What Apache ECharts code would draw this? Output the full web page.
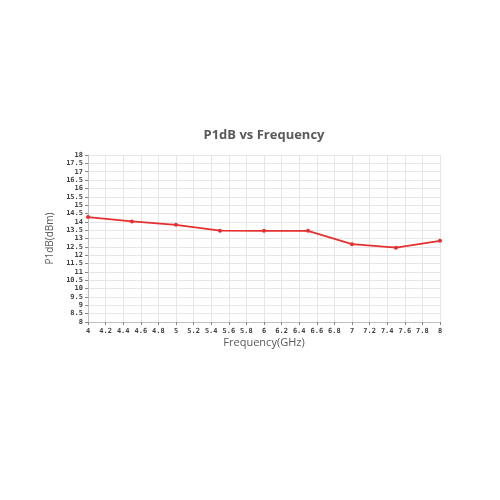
<!DOCTYPE html>
<html>
<head>
<meta charset="utf-8">
<script src="https://cdn.jsdelivr.net/npm/echarts@6/dist/echarts.min.js"></script>
<style>html,body{margin:0;padding:0;background:#fff}#c{width:500px;height:500px}</style>
</head>
<body>
<div id="c"></div>
<script>
var frequencies = [4, 4.5, 5, 5.5, 6, 6.5, 7, 7.5, 8];
var p1db = [14.28, 14.02, 13.82, 13.47, 13.46, 13.46, 12.66, 12.45, 12.86];
var titleText = 'P1dB vs Frequency';
var xName = 'Frequency(GHz)';
var yName = 'P1dB(dBm)';

var chart = echarts.init(document.getElementById('c'));
var tickFont = {fontFamily: 'DejaVu Sans Mono', fontWeight: 'bold', fontSize: 7, color: '#404040'};
chart.setOption({
  animation: false,
  backgroundColor: '#fff',
  title: {
    text: titleText, left: 264, textAlign: 'center', top: 129,
    textStyle: {fontFamily: 'Open Sans', fontWeight: 'bold', fontSize: 13, color: '#595959'},
    padding: 0
  },
  grid: {left: 88, right: 60, top: 155, bottom: 178},
  xAxis: {
    type: 'value', min: 4, max: 8, interval: 0.2,
    name: xName, nameLocation: 'middle', nameGap: 15,
    nameTextStyle: {fontFamily: 'Open Sans', fontSize: 11, color: '#595959'},
    axisLine: {lineStyle: {color: '#bfbfbf'}},
    axisTick: {show: true, length: 3, lineStyle: {color: '#888'}},
    axisLabel: Object.assign({margin: 6, formatter: function(v){return String(Math.round(v*10)/10);}}, tickFont),
    splitLine: {show: true, lineStyle: {color: '#e6e6e6', width: 1}}
  },
  yAxis: {
    type: 'value', min: 8, max: 18, interval: 0.5,
    name: yName, nameLocation: 'middle', nameGap: 32, nameRotate: 90,
    nameTextStyle: {fontFamily: 'Open Sans', fontSize: 10, color: '#595959'},
    axisLine: {show: true, lineStyle: {color: '#bfbfbf'}},
    axisTick: {show: true, length: 3, lineStyle: {color: '#888'}},
    axisLabel: Object.assign({margin: 5}, tickFont),
    splitLine: {show: true, lineStyle: {color: '#e6e6e6', width: 1}}
  },
  series: [{
    type: 'line',
    data: frequencies.map(function(f, i){return [f, p1db[i]];}),
    symbol: 'circle', symbolSize: 4,
    lineStyle: {color: '#e5302f', width: 1.8},
    itemStyle: {color: '#e5302f'}
  }]
});
</script>
</body>
</html>
